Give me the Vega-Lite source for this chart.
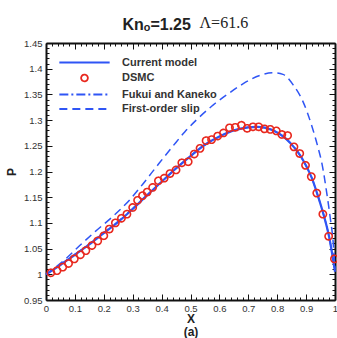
{
  "$schema": "https://vega.github.io/schema/vega-lite/v6.json",
  "width": 289,
  "height": 257,
  "autosize": {"type": "none"},
  "padding": {"left": 46, "top": 43, "right": 2, "bottom": 38},
  "background": "white",
  "config": {
    "view": {"stroke": null},
    "axis": {"grid": false, "labelFont": "Liberation Sans", "titleFont": "Liberation Sans", "domainColor": "#111", "tickColor": "#111", "labelColor": "#333", "labelFontSize": 9.5}
  },
  "title": {"text": "Knₒ=1.25", "anchor": "start", "dx": 117, "font": "Liberation Sans", "fontSize": 16, "fontWeight": "bold", "color": "#222", "offset": -19},
  "datasets": {
    "curves": [
      {"series": "Current model", "x": 0, "P": 1.0},
      {"series": "Current model", "x": 0.05, "P": 1.018},
      {"series": "Current model", "x": 0.1, "P": 1.038},
      {"series": "Current model", "x": 0.15, "P": 1.058},
      {"series": "Current model", "x": 0.2, "P": 1.08},
      {"series": "Current model", "x": 0.25, "P": 1.102},
      {"series": "Current model", "x": 0.3, "P": 1.127},
      {"series": "Current model", "x": 0.35, "P": 1.154},
      {"series": "Current model", "x": 0.4, "P": 1.18},
      {"series": "Current model", "x": 0.45, "P": 1.206},
      {"series": "Current model", "x": 0.5, "P": 1.23},
      {"series": "Current model", "x": 0.55, "P": 1.252},
      {"series": "Current model", "x": 0.6, "P": 1.268},
      {"series": "Current model", "x": 0.65, "P": 1.28},
      {"series": "Current model", "x": 0.7, "P": 1.286},
      {"series": "Current model", "x": 0.73, "P": 1.287},
      {"series": "Current model", "x": 0.76, "P": 1.285},
      {"series": "Current model", "x": 0.8, "P": 1.276},
      {"series": "Current model", "x": 0.83, "P": 1.264},
      {"series": "Current model", "x": 0.86, "P": 1.246},
      {"series": "Current model", "x": 0.88, "P": 1.231},
      {"series": "Current model", "x": 0.9, "P": 1.211},
      {"series": "Current model", "x": 0.92, "P": 1.187},
      {"series": "Current model", "x": 0.94, "P": 1.154},
      {"series": "Current model", "x": 0.96, "P": 1.117},
      {"series": "Current model", "x": 0.98, "P": 1.072},
      {"series": "Current model", "x": 1.0, "P": 1.005},
      {"series": "Fukui and Kaneko", "x": 0, "P": 1.0},
      {"series": "Fukui and Kaneko", "x": 0.05, "P": 1.019},
      {"series": "Fukui and Kaneko", "x": 0.1, "P": 1.039},
      {"series": "Fukui and Kaneko", "x": 0.15, "P": 1.059},
      {"series": "Fukui and Kaneko", "x": 0.2, "P": 1.081},
      {"series": "Fukui and Kaneko", "x": 0.25, "P": 1.103},
      {"series": "Fukui and Kaneko", "x": 0.3, "P": 1.128},
      {"series": "Fukui and Kaneko", "x": 0.35, "P": 1.154},
      {"series": "Fukui and Kaneko", "x": 0.4, "P": 1.18},
      {"series": "Fukui and Kaneko", "x": 0.45, "P": 1.206},
      {"series": "Fukui and Kaneko", "x": 0.5, "P": 1.23},
      {"series": "Fukui and Kaneko", "x": 0.55, "P": 1.252},
      {"series": "Fukui and Kaneko", "x": 0.6, "P": 1.268},
      {"series": "Fukui and Kaneko", "x": 0.65, "P": 1.28},
      {"series": "Fukui and Kaneko", "x": 0.7, "P": 1.286},
      {"series": "Fukui and Kaneko", "x": 0.73, "P": 1.287},
      {"series": "Fukui and Kaneko", "x": 0.76, "P": 1.285},
      {"series": "Fukui and Kaneko", "x": 0.8, "P": 1.276},
      {"series": "Fukui and Kaneko", "x": 0.83, "P": 1.264},
      {"series": "Fukui and Kaneko", "x": 0.86, "P": 1.246},
      {"series": "Fukui and Kaneko", "x": 0.88, "P": 1.231},
      {"series": "Fukui and Kaneko", "x": 0.9, "P": 1.211},
      {"series": "Fukui and Kaneko", "x": 0.92, "P": 1.187},
      {"series": "Fukui and Kaneko", "x": 0.94, "P": 1.154},
      {"series": "Fukui and Kaneko", "x": 0.96, "P": 1.117},
      {"series": "Fukui and Kaneko", "x": 0.98, "P": 1.072},
      {"series": "Fukui and Kaneko", "x": 1.0, "P": 1.005},
      {"series": "First-order slip", "x": 0, "P": 1.0},
      {"series": "First-order slip", "x": 0.07, "P": 1.031},
      {"series": "First-order slip", "x": 0.115, "P": 1.055},
      {"series": "First-order slip", "x": 0.17, "P": 1.083},
      {"series": "First-order slip", "x": 0.23, "P": 1.112},
      {"series": "First-order slip", "x": 0.29, "P": 1.145},
      {"series": "First-order slip", "x": 0.33, "P": 1.172},
      {"series": "First-order slip", "x": 0.39, "P": 1.215},
      {"series": "First-order slip", "x": 0.44, "P": 1.25},
      {"series": "First-order slip", "x": 0.48, "P": 1.277},
      {"series": "First-order slip", "x": 0.52, "P": 1.3},
      {"series": "First-order slip", "x": 0.58, "P": 1.33},
      {"series": "First-order slip", "x": 0.63, "P": 1.351},
      {"series": "First-order slip", "x": 0.68, "P": 1.37},
      {"series": "First-order slip", "x": 0.74, "P": 1.387},
      {"series": "First-order slip", "x": 0.787, "P": 1.392},
      {"series": "First-order slip", "x": 0.82, "P": 1.389},
      {"series": "First-order slip", "x": 0.856, "P": 1.368},
      {"series": "First-order slip", "x": 0.89, "P": 1.335},
      {"series": "First-order slip", "x": 0.919, "P": 1.29},
      {"series": "First-order slip", "x": 0.942, "P": 1.245},
      {"series": "First-order slip", "x": 0.955, "P": 1.215},
      {"series": "First-order slip", "x": 0.971, "P": 1.16},
      {"series": "First-order slip", "x": 0.983, "P": 1.112},
      {"series": "First-order slip", "x": 0.994, "P": 1.06},
      {"series": "First-order slip", "x": 1.0, "P": 1.01}
    ],
    "dsmc": [
      {"series": "DSMC", "x": 0.017, "P": 1.003},
      {"series": "DSMC", "x": 0.038, "P": 1.007},
      {"series": "DSMC", "x": 0.058, "P": 1.014},
      {"series": "DSMC", "x": 0.078, "P": 1.021},
      {"series": "DSMC", "x": 0.098, "P": 1.03},
      {"series": "DSMC", "x": 0.119, "P": 1.038},
      {"series": "DSMC", "x": 0.138, "P": 1.046},
      {"series": "DSMC", "x": 0.159, "P": 1.056},
      {"series": "DSMC", "x": 0.179, "P": 1.065},
      {"series": "DSMC", "x": 0.2, "P": 1.075},
      {"series": "DSMC", "x": 0.219, "P": 1.088},
      {"series": "DSMC", "x": 0.24, "P": 1.1},
      {"series": "DSMC", "x": 0.261, "P": 1.109},
      {"series": "DSMC", "x": 0.28, "P": 1.117},
      {"series": "DSMC", "x": 0.3, "P": 1.13},
      {"series": "DSMC", "x": 0.317, "P": 1.144},
      {"series": "DSMC", "x": 0.334, "P": 1.153},
      {"series": "DSMC", "x": 0.35, "P": 1.16},
      {"series": "DSMC", "x": 0.369, "P": 1.169},
      {"series": "DSMC", "x": 0.389, "P": 1.182},
      {"series": "DSMC", "x": 0.409, "P": 1.187},
      {"series": "DSMC", "x": 0.429, "P": 1.196},
      {"series": "DSMC", "x": 0.45, "P": 1.203},
      {"series": "DSMC", "x": 0.47, "P": 1.217},
      {"series": "DSMC", "x": 0.492, "P": 1.219},
      {"series": "DSMC", "x": 0.513, "P": 1.234},
      {"series": "DSMC", "x": 0.533, "P": 1.245},
      {"series": "DSMC", "x": 0.554, "P": 1.26},
      {"series": "DSMC", "x": 0.573, "P": 1.262},
      {"series": "DSMC", "x": 0.594, "P": 1.269},
      {"series": "DSMC", "x": 0.614, "P": 1.275},
      {"series": "DSMC", "x": 0.635, "P": 1.285},
      {"series": "DSMC", "x": 0.655, "P": 1.286},
      {"series": "DSMC", "x": 0.676, "P": 1.29},
      {"series": "DSMC", "x": 0.696, "P": 1.284},
      {"series": "DSMC", "x": 0.716, "P": 1.287},
      {"series": "DSMC", "x": 0.736, "P": 1.287},
      {"series": "DSMC", "x": 0.756, "P": 1.283},
      {"series": "DSMC", "x": 0.776, "P": 1.282},
      {"series": "DSMC", "x": 0.797, "P": 1.279},
      {"series": "DSMC", "x": 0.816, "P": 1.272},
      {"series": "DSMC", "x": 0.836, "P": 1.27},
      {"series": "DSMC", "x": 0.858, "P": 1.248},
      {"series": "DSMC", "x": 0.878, "P": 1.235},
      {"series": "DSMC", "x": 0.898, "P": 1.212},
      {"series": "DSMC", "x": 0.918, "P": 1.19},
      {"series": "DSMC", "x": 0.937, "P": 1.158},
      {"series": "DSMC", "x": 0.958, "P": 1.117},
      {"series": "DSMC", "x": 0.978, "P": 1.074},
      {"series": "DSMC", "x": 0.998, "P": 1.03}
    ]
  },
  "layer": [
    {
      "data": {"name": "curves"},
      "transform": [{"filter": "datum.series === 'Fukui and Kaneko'"}],
      "mark": {"type": "line", "color": "#2f55f5", "strokeWidth": 1.5, "strokeDash": [9, 3, 2, 3], "interpolate": "monotone"},
      "encoding": {
        "x": {"field": "x", "type": "quantitative", "scale": {"domain": [0, 1], "nice": false, "zero": false},
          "axis": {"orient": "bottom", "values": [0, 0.1, 0.2, 0.3, 0.4, 0.5, 0.6, 0.7, 0.8, 0.9, 1], "format": "~g", "tickSize": -6, "labelPadding": 9, "domainWidth": 2, "labelFlush": false,
            "title": ["X", "(a)"], "titleFontSize": 12, "titleFontWeight": "bold", "titleColor": "#222", "titleLineHeight": 12.5, "titlePadding": 1}},
        "y": {"field": "P", "type": "quantitative", "scale": {"domain": [0.95, 1.45], "nice": false, "zero": false},
          "axis": {"orient": "left", "values": [0.95, 1, 1.05, 1.1, 1.15, 1.2, 1.25, 1.3, 1.35, 1.4, 1.45], "format": "~g", "tickSize": -6, "labelPadding": 10, "domainWidth": 2, "labelFlush": false,
            "title": "P", "titleFontSize": 12, "titleFontWeight": "bold", "titleColor": "#222", "titlePadding": 5}}
      }
    },
    {
      "data": {"name": "curves"},
      "transform": [{"filter": "datum.series === 'First-order slip'"}],
      "mark": {"type": "line", "color": "#2f55f5", "strokeWidth": 1.5, "strokeDash": [8, 5], "interpolate": "monotone"},
      "encoding": {
        "x": {"field": "x", "type": "quantitative", "scale": {"domain": [0, 1], "nice": false, "zero": false},
          "axis": {"orient": "top", "values": [0, 0.1, 0.2, 0.3, 0.4, 0.5, 0.6, 0.7, 0.8, 0.9, 1], "labels": false, "tickSize": -6, "domainWidth": 2,
            "title": "Λ=61.6", "titleFont": "Liberation Serif", "titleFontSize": 16, "titleFontWeight": "normal", "titleColor": "#222", "titleAlign": "left", "titleBaseline": "alphabetic", "titleAnchor": "start", "titleX": 153, "titleY": -16, "titleAngle": 0}},
        "y": {"field": "P", "type": "quantitative", "scale": {"domain": [0.95, 1.45], "nice": false, "zero": false},
          "axis": {"orient": "right", "values": [0.95, 1, 1.05, 1.1, 1.15, 1.2, 1.25, 1.3, 1.35, 1.4, 1.45], "labels": false, "tickSize": -6, "domainWidth": 2, "title": null}}
      }
    },
    {
      "data": {"name": "curves"},
      "transform": [{"filter": "datum.series === 'Current model'"}],
      "mark": {"type": "line", "color": "#2f55f5", "strokeWidth": 2.2, "interpolate": "monotone"},
      "encoding": {
        "x": {"field": "x", "type": "quantitative", "scale": {"domain": [0, 1], "nice": false, "zero": false},
          "axis": {"orient": "bottom", "values": [0.02, 0.04, 0.06, 0.08, 0.12, 0.14, 0.16, 0.18, 0.22, 0.24, 0.26, 0.28, 0.32, 0.34, 0.36, 0.38, 0.42, 0.44, 0.46, 0.48, 0.52, 0.54, 0.56, 0.58, 0.62, 0.64, 0.66, 0.68, 0.72, 0.74, 0.76, 0.78, 0.82, 0.84, 0.86, 0.88, 0.92, 0.94, 0.96, 0.98], "labels": false, "domain": false, "tickSize": -3, "title": null}},
        "y": {"field": "P", "type": "quantitative", "scale": {"domain": [0.95, 1.45], "nice": false, "zero": false},
          "axis": {"orient": "left", "values": [0.96, 0.97, 0.98, 0.99, 1.01, 1.02, 1.03, 1.04, 1.06, 1.07, 1.08, 1.09, 1.11, 1.12, 1.13, 1.14, 1.16, 1.17, 1.18, 1.19, 1.21, 1.22, 1.23, 1.24, 1.26, 1.27, 1.28, 1.29, 1.31, 1.32, 1.33, 1.34, 1.36, 1.37, 1.38, 1.39, 1.41, 1.42, 1.43, 1.44], "labels": false, "domain": false, "tickSize": -3, "title": null}}
      }
    },
    {
      "data": {"name": "dsmc"},
      "mark": {"type": "point", "filled": false, "size": 52, "strokeWidth": 1.6, "opacity": 1},
      "encoding": {
        "x": {"field": "x", "type": "quantitative", "scale": {"domain": [0, 1], "nice": false, "zero": false},
          "axis": {"orient": "top", "values": [0.02, 0.04, 0.06, 0.08, 0.12, 0.14, 0.16, 0.18, 0.22, 0.24, 0.26, 0.28, 0.32, 0.34, 0.36, 0.38, 0.42, 0.44, 0.46, 0.48, 0.52, 0.54, 0.56, 0.58, 0.62, 0.64, 0.66, 0.68, 0.72, 0.74, 0.76, 0.78, 0.82, 0.84, 0.86, 0.88, 0.92, 0.94, 0.96, 0.98], "labels": false, "domain": false, "tickSize": -3, "title": null}},
        "y": {"field": "P", "type": "quantitative", "scale": {"domain": [0.95, 1.45], "nice": false, "zero": false},
          "axis": {"orient": "right", "values": [0.96, 0.97, 0.98, 0.99, 1.01, 1.02, 1.03, 1.04, 1.06, 1.07, 1.08, 1.09, 1.11, 1.12, 1.13, 1.14, 1.16, 1.17, 1.18, 1.19, 1.21, 1.22, 1.23, 1.24, 1.26, 1.27, 1.28, 1.29, 1.31, 1.32, 1.33, 1.34, 1.36, 1.37, 1.38, 1.39, 1.41, 1.42, 1.43, 1.44], "labels": false, "domain": false, "tickSize": -3, "title": null}},
        "color": {"field": "series", "type": "nominal",
          "scale": {"domain": ["Current model", "DSMC", "Fukui and Kaneko", "First-order slip"], "range": ["#2f55f5", "#e8281e", "#2f55f5", "#2f55f5"]},
          "legend": {"orient": "none", "legendX": 33, "legendY": 14, "title": null, "padding": 0, "labelFont": "Liberation Sans", "labelFontSize": 11, "labelFontWeight": "bold", "labelColor": "#333", "labelOffset": 32, "rowPadding": 2.5, "symbolSize": 45, "symbolStrokeWidth": 1.8, "symbolOpacity": 1}},
        "shape": {"field": "series", "type": "nominal",
          "scale": {"domain": ["Current model", "DSMC", "Fukui and Kaneko", "First-order slip"], "range": ["M-7.5,0H7.5", "circle", "M-7.5,0H7.5", "M-7.5,0H7.5"]},
          "legend": {"orient": "none", "legendX": 33, "legendY": 14, "title": null, "padding": 0, "labelFont": "Liberation Sans", "labelFontSize": 11, "labelFontWeight": "bold", "labelColor": "#333", "labelOffset": 32, "rowPadding": 2.5, "symbolSize": 45, "symbolStrokeWidth": 1.8, "symbolOpacity": 1}},
        "strokeDash": {"field": "series", "type": "nominal",
          "scale": {"domain": ["Current model", "DSMC", "Fukui and Kaneko", "First-order slip"], "range": [[1, 0], [1, 0], [9, 3, 2, 3], [8, 5]]},
          "legend": {"orient": "none", "legendX": 33, "legendY": 14, "title": null, "padding": 0, "labelFont": "Liberation Sans", "labelFontSize": 11, "labelFontWeight": "bold", "labelColor": "#333", "labelOffset": 32, "rowPadding": 2.5, "symbolSize": 45, "symbolStrokeWidth": 1.8, "symbolOpacity": 1}}
      }
    }
  ],
  "resolve": {"axis": {"x": "independent", "y": "independent"}}
}
